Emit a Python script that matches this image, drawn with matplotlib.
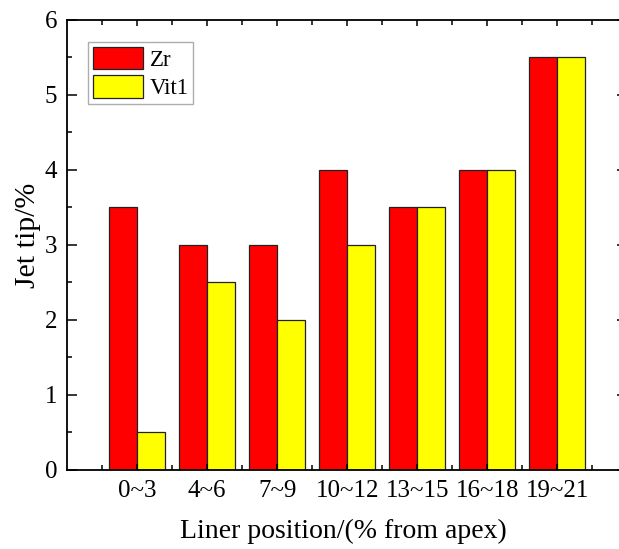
import numpy as np
import matplotlib
matplotlib.use("Agg")
import matplotlib.pyplot as plt
from matplotlib.ticker import MultipleLocator, FixedLocator

plt.rcParams["font.family"] = ["Liberation Serif", "DejaVu Serif"]

positions = ["0~3", "4~6", "7~9", "10~12", "13~15", "16~18", "19~21"]
zr = [3.5, 3.0, 3.0, 4.0, 3.5, 4.0, 5.5]
vit1 = [0.5, 2.5, 2.0, 3.0, 3.5, 4.0, 5.5]

x = np.arange(1, len(positions) + 1)
w = 0.4

fig = plt.figure(figsize=(6.19, 5.49), dpi=100)
# right edge of the frame runs just past the canvas
ax = fig.add_axes([0.1082, 0.1439, 0.9055, 0.8197])

ax.bar(x - w / 2, zr, w, color="#ff0000", edgecolor="#222222", lw=0.9, label="Zr")
ax.bar(x + w / 2, vit1, w, color="#ffff00", edgecolor="#222222", lw=0.9, label="Vit1")

ax.set_xlim(0, 8)
ax.set_ylim(0, 6)
ax.set_xticks(x)
ax.set_xticklabels(positions)
ax.xaxis.set_minor_locator(FixedLocator(np.arange(0.5, 8, 1)))
ax.yaxis.set_major_locator(MultipleLocator(1))
ax.yaxis.set_minor_locator(MultipleLocator(0.5))

ax.tick_params(which="both", direction="in", top=True, right=True, width=1.1,
               labelsize=18, pad=7)
ax.tick_params(which="major", length=7)
ax.tick_params(which="minor", length=3.5)
ax.tick_params(axis="x", which="major", length=4)
for s in ax.spines.values():
    s.set_linewidth(1.3)

ax.set_xlabel("Liner position/(% from apex)", fontsize=20)
ax.set_ylabel("Jet tip/%", fontsize=21.5)
ax.xaxis.set_label_coords(0.493, -0.108)
ax.yaxis.set_label_coords(-0.046, 0.522)

leg = ax.legend(loc="upper left", bbox_to_anchor=(0.0375, 0.951), fontsize=16.5,
                frameon=True, fancybox=False, edgecolor="#999999",
                handlelength=2.2, handleheight=1.15, handletextpad=0.3,
                labelspacing=0.18, borderpad=0.2, borderaxespad=0)
leg.get_frame().set_linewidth(1.0)

fig.savefig("out.png", dpi=100)
